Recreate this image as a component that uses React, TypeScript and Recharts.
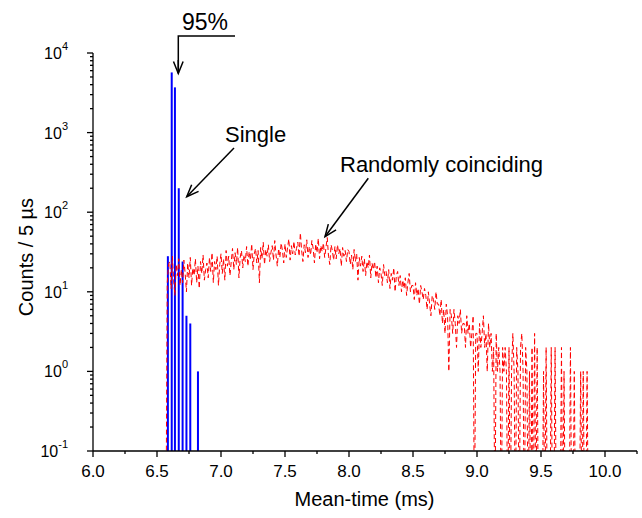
import React from 'react';
import { ComposedChart, Bar, Line, XAxis, YAxis } from 'recharts';

// single events (blue drop lines)
const singleTimes = [6.585, 6.615, 6.64, 6.67, 6.7, 6.73, 6.76, 6.82];
const singleCounts = [28, 5700, 3700, 200, 24, 5, 4, 1];

// randomly coinciding events, counts per bin, bins every 0.01 ms from 6.57 ms
const randomStart = 6.57;
const randomStep = 0.01;
const randomCounts = [
  0, 13, 22,
  24, 11, 28, 14, 9, 22, 16, 26, 12, 19,  // 6.6
  13, 25, 17, 10, 23, 15, 27, 12, 20, 16, // 6.7
  26, 13, 21, 11, 24, 17, 29, 14, 19, 23, // 6.8
  15, 27, 18, 31, 13, 24, 19, 28, 12, 22, // 6.9
  30, 17, 26, 14, 33, 21, 28, 16, 24, 35, // 7.0
  19, 31, 22, 36, 15, 27, 33, 20, 29, 24, // 7.1
  37, 21, 32, 25, 40, 19, 30, 35, 23, 33, // 7.2
  13, 36, 26, 42, 22, 34, 28, 39, 24, 31, // 7.3
  38, 25, 44, 29, 21, 35, 27, 41, 33, 23, // 7.4
  40, 27, 36, 46, 25, 38, 30, 43, 29, 35, // 7.5
  42, 28, 55, 33, 24, 39, 31, 45, 27, 37, // 7.6
  29, 44, 35, 23, 40, 31, 47, 26, 38, 32, // 7.7
  41, 27, 36, 48, 28, 22, 39, 33, 25, 37, // 7.8
  26, 39, 30, 35, 21, 36, 28, 33, 24, 34, // 7.9
  32, 22, 29, 19, 34, 24, 30, 14, 27, 21, // 8.0
  28, 18, 26, 16, 24, 20, 29, 15, 23, 19, // 8.1
  24, 15, 21, 13, 20, 17, 12, 22, 16, 18, // 8.2
  13, 19, 11, 17, 14, 20, 10, 16, 18, 12, // 8.3
  16, 10, 14, 11, 15, 9, 13, 17, 10, 12,  // 8.4
  12, 8, 13, 9, 11, 7, 12, 10, 8, 11,     // 8.5
  9, 6, 10, 7, 5, 9, 8, 6, 10, 7,         // 8.6
  7, 5, 8, 4, 6, 3, 7, 5, 1, 6,           // 8.7
  5, 3, 6, 4, 2, 5, 4, 6, 3, 4,           // 8.8
  4, 2, 5, 3, 4, 2, 3, 5, 0, 3,           // 8.9
  3, 1, 4, 2, 3, 5, 2, 3, 1, 4,           // 9.0
  2, 3, 1, 2, 0, 3, 1, 2, 1, 0,           // 9.1
  2, 1, 2, 1, 0, 2, 0, 1, 3, 1,           // 9.2
  0, 2, 1, 0, 2, 3, 1, 0, 2, 1,           // 9.3
  0, 1, 0, 2, 0, 3, 0, 2, 0, 0,           // 9.4
  0, 0, 1, 0, 2, 0, 0, 0, 2, 0,           // 9.5
  0, 2, 0, 0, 0, 0, 2, 0, 1, 0,           // 9.6
  0, 0, 0, 2, 0, 0, 1, 0, 0, 0,           // 9.7
  0, 1, 0, 1, 0, 0, 1, 0,                 // 9.8
];

const xMajorTicks = [6.0, 6.5, 7.0, 7.5, 8.0, 8.5, 9.0, 9.5, 10.0];
const xMinorTicks = [6.25, 6.75, 7.25, 7.75, 8.25, 8.75, 9.25, 9.75, 10.25];
const yMajorTicks = [0.1, 1, 10, 100, 1000, 10000];
const yMinorSteps = [2, 3, 4, 5, 6, 7, 8, 9];

// empty bins cannot sit on a log axis; push them below the plot (clipped)
const BELOW_AXIS = 0.01;

const singleData = singleTimes.map((t, i) => ({ t, single: singleCounts[i] }));
const randomData = randomCounts.map((c, i) => ({
  t: Number((randomStart + i * randomStep).toFixed(3)),
  random: c > 0 ? c : BELOW_AXIS,
}));

const xTicks = [...xMajorTicks, ...xMinorTicks].sort((a, b) => a - b);
const yTicks: number[] = [];
yMajorTicks.forEach((m, i) => {
  yTicks.push(m);
  if (i < yMajorTicks.length - 1) yMinorSteps.forEach((k) => yTicks.push(Number((m * k).toPrecision(3))));
});

const FONT = '"Liberation Sans", Arial, sans-serif';

const XTick = (props: any) => {
  const { x, y, payload } = props;
  const v = payload.value;
  const major = xMajorTicks.includes(v);
  return (
    <g>
      <line x1={x} y1={y} x2={x} y2={y + (major ? 6 : 3)} stroke="#000" strokeWidth={1.3} />
      {major && (
        <text x={x} y={y + 26} textAnchor="middle" fontSize={17} fontFamily={FONT} fill="#000">
          {v.toFixed(1)}
        </text>
      )}
    </g>
  );
};

const YTick = (props: any) => {
  const { x, y, payload } = props;
  const v = payload.value;
  const major = yMajorTicks.includes(v);
  return (
    <g>
      <line x1={x} y1={y} x2={x - (major ? 6 : 3)} y2={y} stroke="#000" strokeWidth={1.3} />
      {major && (
        <text x={x - 25} y={y + 6} textAnchor="end" fontSize={16} fontFamily={FONT} fill="#000">
          10
          <tspan dy={-9} fontSize={11}>{Math.round(Math.log10(v))}</tspan>
        </text>
      )}
    </g>
  );
};

// 2px wide drop line centred on the bin
const Spike = (props: any) => {
  const { x, y, width, height } = props;
  return <rect x={x + width / 2 - 1} y={y} width={2} height={height} fill="#0000FF" />;
};

const Arrow = ({ x1, y1, x2, y2 }: { x1: number; y1: number; x2: number; y2: number }) => {
  const a = Math.atan2(y2 - y1, x2 - x1);
  const len = 13;
  const spread = 0.38;
  const w1 = `${x2 - len * Math.cos(a - spread)},${y2 - len * Math.sin(a - spread)}`;
  const w2 = `${x2 - len * Math.cos(a + spread)},${y2 - len * Math.sin(a + spread)}`;
  return (
    <g stroke="#000" strokeWidth={1.5} fill="none">
      <line x1={x1} y1={y1} x2={x2} y2={y2} />
      <polyline points={`${w1} ${x2},${y2} ${w2}`} />
    </g>
  );
};

const App = () => {
  return (
    <div style={{ position: 'absolute', left: 0, top: 0, width: 642, height: 518, overflow: 'hidden', background: '#fff' }}>
      <ComposedChart
        width={642}
        height={518}
        data={singleData}
        margin={{ top: 53, right: 5, left: 33, bottom: 27 }}
      >
        <XAxis
          dataKey="t"
          type="number"
          domain={[6, 10.25]}
          allowDataOverflow
          ticks={xTicks}
          interval={0}
          tick={<XTick />}
          tickLine={false}
          tickSize={0}
          tickMargin={0}
          height={40}
          axisLine={{ stroke: '#000', strokeWidth: 1.3 }}
        />
        <YAxis
          type="number"
          scale="log"
          domain={[0.1, 10000]}
          allowDataOverflow
          ticks={yTicks}
          interval={0}
          tick={<YTick />}
          tickLine={false}
          tickSize={0}
          tickMargin={0}
          width={60}
          axisLine={{ stroke: '#000', strokeWidth: 1.3 }}
        />
        <Line
          data={randomData}
          dataKey="random"
          type="linear"
          stroke="#FF0000"
          strokeWidth={1}
          strokeDasharray="5 3"
          dot={false}
          activeDot={false}
          isAnimationActive={false}
        />
        <Bar dataKey="single" fill="#0000FF" shape={<Spike />} isAnimationActive={false} />
      </ComposedChart>
      <svg
        width={642}
        height={518}
        style={{ position: 'absolute', left: 0, top: 0, pointerEvents: 'none' }}
        fontFamily={FONT}
      >
        <text x={182} y={30} fontSize={23} fill="#000">95%</text>
        <polyline points="235,36 178.3,36 178.3,73" stroke="#000" strokeWidth={1.5} fill="none" />
        <Arrow x1={178.3} y1={60} x2={178.3} y2={73.5} />
        <text x={225} y={141.7} fontSize={22} fill="#000">Single</text>
        <Arrow x1={234} y1={148} x2={186.7} y2={196.7} />
        <text x={340} y={171.7} fontSize={22} fill="#000">Randomly coinciding</text>
        <Arrow x1={368.3} y1={178.3} x2={325} y2={236.7} />
        <text x={364.5} y={506} textAnchor="middle" fontSize={20} fill="#000">Mean-time (ms)</text>
        <text
          x={33}
          y={257}
          transform="rotate(-90 33 257)"
          textAnchor="middle"
          fontSize={20}
          fill="#000"
        >
          Counts / 5 µs
        </text>
      </svg>
    </div>
  );
};

export default App;
